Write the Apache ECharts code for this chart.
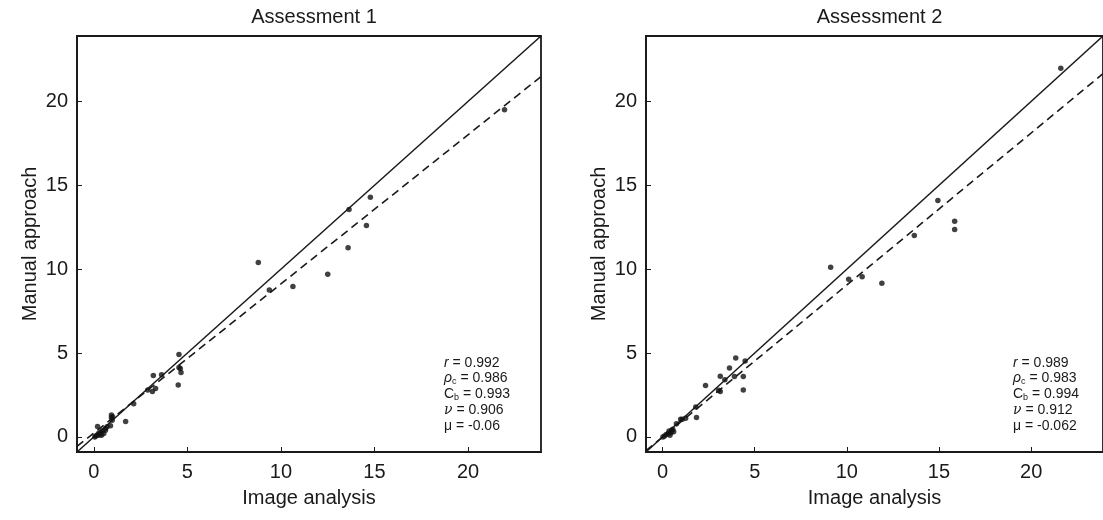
<!DOCTYPE html>
<html>
<head>
<meta charset="utf-8">
<script src="https://cdn.jsdelivr.net/npm/echarts@6/dist/echarts.min.js"></script>
<style>html,body{margin:0;padding:0;background:#fff}#c{width:1103px;height:520px}</style>
</head>
<body>
<div id="c"></div>
<script>
// ---- data ----
const titles = ['Assessment 1', 'Assessment 2'];
const xName = 'Image analysis';
const yName = 'Manual approach';
const tickValues = [0, 5, 10, 15, 20];
const axisRange = [-0.9, 23.9];

const points1 = [
  [0.05,0.0],[0.1,0.05],[0.18,0.1],[0.25,0.2],[0.3,0.12],[0.36,0.26],[0.45,0.36],
  [0.41,0.1],[0.53,0.2],[0.2,0.62],[0.62,0.5],[0.62,0.4],[0.71,0.6],[0.89,0.66],
  [0.94,1.3],[0.94,1.15],[0.98,1.0],[1.0,1.2],[1.7,0.92],[2.13,1.97],[2.88,2.79],
  [3.13,2.7],[3.3,2.88],[3.18,3.66],[3.62,3.7],[4.51,3.1],[4.55,4.91],[4.55,4.14],
  [4.62,4.08],[4.66,3.84],[8.79,10.4],[9.38,8.76],[10.64,8.96],[12.5,9.69],
  [13.59,11.28],[13.64,13.55],[14.57,12.6],[14.78,14.29],[21.95,19.5]
];
const points2 = [
  [0.02,0.0],[0.1,0.05],[0.2,0.15],[0.3,0.2],[0.35,0.35],[0.45,0.25],[0.5,0.4],
  [0.4,0.1],[0.55,0.45],[0.6,0.3],[0.75,0.79],[0.98,1.05],[1.07,1.05],[1.25,1.11],
  [1.8,1.79],[1.84,1.15],[2.33,3.06],[3.04,2.78],[3.13,2.7],[3.38,3.4],[3.13,3.62],
  [3.63,4.11],[3.9,3.6],[3.97,4.71],[4.38,3.6],[4.38,2.8],[4.48,4.53],[9.12,10.11],
  [10.1,9.4],[10.83,9.55],[11.9,9.16],[13.66,12.0],[14.94,14.1],[15.85,12.85],
  [15.85,12.36],[21.61,21.97]
];
// line of equality and fitted (dashed) line endpoints
const identityLine = [[-0.9,-0.9],[23.9,23.9]];
const fitLine1 = [[-0.9,-0.57],[23.9,21.48]];
const fitLine2 = [[-0.9,-0.82],[23.9,21.65]];

// statistics text
const stats1 = ['0.992','0.986','0.993','0.906','-0.06'];
const stats2 = ['0.989','0.983','0.994','0.912','-0.062'];

// ---- chart ----
const FONT = 'Liberation Sans, Arial, Helvetica, sans-serif';
const INK = '#1a1a1a';
const grids = [
  {left: 77, top: 36, width: 464, height: 416},
  {left: 646, top: 36, width: 465, height: 416}
];

function axisCommon(name, isX) {
  return {
    type: 'value', min: axisRange[0], max: axisRange[1],
    name: name, nameLocation: 'middle', nameGap: isX ? 36 : 37,
    nameTextStyle: {fontSize: 20, color: INK, fontFamily: FONT},
    axisLine: {show: true, onZero: false, lineStyle: {color: INK, width: 1.8}},
    axisTick: {show: true, inside: true, length: 5, customValues: tickValues, lineStyle: {color: INK, width: 1}},
    axisLabel: {customValues: tickValues, fontSize: 20, color: INK, fontFamily: FONT, margin: isX ? 10 : 9},
    splitLine: {show: false}
  };
}

const xAxes = [], yAxes = [], series = [], titleArr = [], graphic = [];
const pts = [points1, points2];
const fits = [fitLine1, fitLine2];
const stats = [stats1, stats2];
for (let i = 0; i < 2; i++) {
  const x = axisCommon(xName, true); x.gridIndex = i; xAxes.push(x);
  const y = axisCommon(yName, false); y.gridIndex = i; yAxes.push(y);
  titleArr.push({
    text: titles[i], left: grids[i].left + grids[i].width / 2 - (i === 1 ? 4 : 0), top: 2, textAlign: 'center',
    textStyle: {fontSize: 20, fontWeight: 'normal', color: INK, fontFamily: FONT}
  });
  series.push({
    type: 'line', xAxisIndex: i, yAxisIndex: i, data: identityLine, symbol: 'none',
    lineStyle: {color: INK, width: 1.5}, silent: true, animation: false, z: 2
  });
  series.push({
    type: 'line', xAxisIndex: i, yAxisIndex: i, data: fits[i], symbol: 'none',
    lineStyle: {color: INK, width: 1.6, type: [8, 5]}, silent: true, animation: false, z: 2
  });
  series.push({
    type: 'scatter', xAxisIndex: i, yAxisIndex: i, data: pts[i], symbol: 'circle', symbolSize: 5.5,
    itemStyle: {color: '#111'}, animation: false, z: 3
  });
  const s = stats[i];
  const lines = [
    '{it|r} = ' + s[0],
    '{it|ρ}{sub|c} = ' + s[1],
    'C{sub|b} = ' + s[2],
    '{nu|ν} = ' + s[3],
    'μ = ' + s[4]
  ];
  graphic.push({
    type: 'text', left: grids[i].left + 367, top: 355, z: 10,
    style: {
      text: lines.join('\n'), fill: INK, fontSize: 14, fontFamily: FONT, lineHeight: 15.7,
      rich: {
        it: {fontStyle: 'italic', fontSize: 14, fontFamily: FONT, fill: INK, lineHeight: 15.7},
        nu: {fontStyle: 'italic', fontSize: 14, fontFamily: 'DejaVu Serif, serif', fill: INK, lineHeight: 15.7},
        sub: {fontSize: 9, fontFamily: FONT, fill: INK, verticalAlign: 'bottom', lineHeight: 15.7, padding: [6, 0, 0, 0]}
      }
    }
  });
}

const chart = echarts.init(document.getElementById('c'), null, {renderer: 'canvas'});
chart.setOption({
  animation: false,
  backgroundColor: '#fff',
  title: titleArr,
  grid: grids.map(g => Object.assign({show: true, borderColor: INK, borderWidth: 1.8, backgroundColor: 'transparent'}, g)),
  xAxis: xAxes,
  yAxis: yAxes,
  series: series,
  graphic: graphic
});
</script>
</body>
</html>
